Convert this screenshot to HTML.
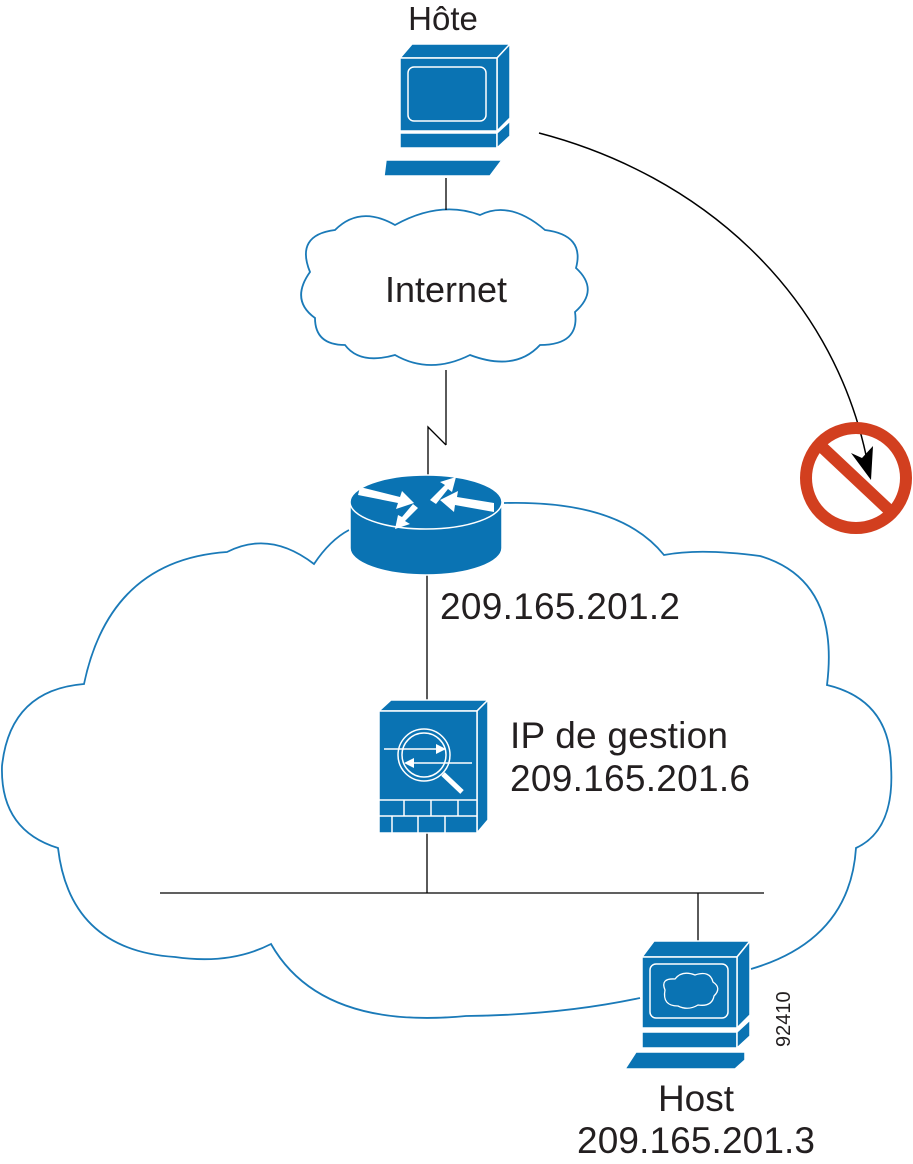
<!DOCTYPE html>
<html><head><meta charset="utf-8"><style>
html,body{margin:0;padding:0;background:#fff;}
svg{display:block;}
text{font-family:"Liberation Sans",Arial,sans-serif;fill:#231f20;}
</style></head><body>
<svg width="913" height="1164" viewBox="0 0 913 1164" xmlns="http://www.w3.org/2000/svg">
<!-- big cloud -->
<path d="M349,530 Q330,540 314,564 Q270,530 227,552 Q110,560 84,684 Q10,690 2,766 Q0,830 58,848 Q70,950 175,957 Q230,965 271,944 Q320,1030 466,1016 Q560,1015 640,998 M751,969 Q850,940 856,848 Q895,830 891,766 Q890,700 827,685 Q840,580 760,556 Q700,548 664,555 Q620,500 504,503" fill="none" stroke="#1a7ab8" stroke-width="1.8"/>
<!-- internet cloud -->
<path d="M335,230 Q360,205 395,225 Q440,200 480,215 Q510,200 545,230 Q585,235 576,268 Q600,290 575,312 Q580,345 540,345 Q515,372 470,355 Q430,375 395,355 Q360,365 345,345 Q315,345 315,318 Q290,300 310,272 Q295,235 335,230 Z" fill="none" stroke="#1a7ab8" stroke-width="1.8"/>
<text x="446" y="302" font-size="36" text-anchor="middle">Internet</text>
<!-- lines -->
<line x1="446" y1="178" x2="446" y2="210" stroke="#000" stroke-width="1.3"/>
<line x1="446" y1="370" x2="446" y2="445" stroke="#000" stroke-width="1.3"/>
<polyline points="446,445 428,427 428,476" fill="none" stroke="#000" stroke-width="1.3"/>
<line x1="427" y1="575" x2="427" y2="700" stroke="#000" stroke-width="1.3"/>
<line x1="427" y1="833" x2="427" y2="893" stroke="#000" stroke-width="1.3"/>
<line x1="160" y1="893" x2="764" y2="893" stroke="#000" stroke-width="1.3"/>
<line x1="698" y1="893" x2="698" y2="941" stroke="#000" stroke-width="1.3"/>
<!-- top host -->
<text x="443" y="30" font-size="33" text-anchor="middle">Hôte</text>
<g fill="#0a73b3" stroke="#fff" stroke-width="1.5">
<polygon points="400,58 412,44 510,44 497,58"/>
<polygon points="497,58 510,44 510,118 497,131"/>
<rect x="400" y="58" width="97" height="73"/>
<rect x="400" y="133" width="97" height="15"/>
<polygon points="497,133 510,121 510,136 497,148"/>
<polygon points="386,160 502,160 490,176 384,176"/>
</g>
<rect x="408" y="67" width="78" height="54" rx="6" fill="none" stroke="#fff" stroke-width="1.5"/>
<!-- router -->
<g stroke="#fff" stroke-width="1.5">
<path d="M350,502 L350,548 A76,27 0 0 0 502,548 L502,502 Z" fill="#0a73b3"/>
<ellipse cx="426" cy="502" rx="76" ry="27" fill="#0a73b3"/>
</g>
<g fill="#fff">
<polygon points="360,487 400,497 402,491 414,503 396,509 398,503 358,495"/>
<polygon points="430,500 445,485 440,482 456,477 452,492 448,489 436,504"/>
<polygon points="494,512 455,505 454,512 440,500 458,491 457,497 494,503"/>
<polygon points="418,508 405,521 410,524 395,529 398,515 402,517 413,504"/>
</g>
<text x="440" y="619" font-size="37" textLength="240">209.165.201.2</text>
<!-- firewall -->
<g fill="#0a73b3" stroke="#fff" stroke-width="1.5">
<polygon points="379,711 391,700 488,700 477,711"/>
<polygon points="477,711 488,700 488,820 477,833"/>
<rect x="379" y="711" width="98" height="122"/>
</g>
<g stroke="#fff" stroke-width="1.5" fill="none">
<line x1="379" y1="800" x2="477" y2="800"/>
<line x1="379" y1="816" x2="477" y2="816"/>
<line x1="404" y1="800" x2="404" y2="816"/><line x1="431" y1="800" x2="431" y2="816"/><line x1="458" y1="800" x2="458" y2="816"/>
<line x1="392" y1="816" x2="392" y2="833"/><line x1="418" y1="816" x2="418" y2="833"/><line x1="445" y1="816" x2="445" y2="833"/>
<circle cx="424" cy="755" r="26"/>
<circle cx="424" cy="755" r="22"/>
<line x1="443" y1="774" x2="462" y2="792" stroke-width="5"/>
<line x1="384" y1="749" x2="436" y2="749"/>
<line x1="414" y1="763" x2="472" y2="763"/>
</g>
<polygon points="436,744 446,749 436,754" fill="#fff"/>
<polygon points="414,758 404,763 414,768" fill="#fff"/>
<text x="510" y="748" font-size="37" textLength="218">IP de gestion</text>
<text x="510" y="791" font-size="37" textLength="240">209.165.201.6</text>
<!-- bottom host -->
<g fill="#0a73b3" stroke="#fff" stroke-width="1.5">
<polygon points="642,957 654,941 750,941 737,957"/>
<polygon points="737,957 750,941 750,1015 737,1028"/>
<rect x="642" y="957" width="95" height="71"/>
<rect x="642" y="1032" width="95" height="16"/>
<polygon points="737,1032 750,1020 750,1036 737,1048"/>
<polygon points="636,1052 745,1052 745,1060 735,1069 625,1069"/>
</g>
<rect x="650" y="964" width="78" height="54" rx="6" fill="none" stroke="#fff" stroke-width="1.5"/>
<path d="M665,990 Q660,978 675,979 Q682,970 695,975 Q710,970 713,982 Q722,988 714,996 Q712,1007 698,1005 Q688,1011 678,1006 Q662,1006 665,990 Z" fill="none" stroke="#fff" stroke-width="1.3"/>
<text x="696" y="1111" font-size="37" text-anchor="middle">Host</text>
<text x="696" y="1153" font-size="37" text-anchor="middle" textLength="238">209.165.201.3</text>
<text x="0" y="0" font-size="20" transform="translate(790,1047) rotate(-90)">92410</text>
<!-- arrow -->
<path d="M539,133 C700,175 830,290 866,455" fill="none" stroke="#000" stroke-width="1.5"/>
<!-- no sign -->
<circle cx="856" cy="478" r="50" fill="none" stroke="#d23f1f" stroke-width="12"/>
<line x1="823" y1="448" x2="889" y2="510" stroke="#d23f1f" stroke-width="12"/>
<polygon points="871,480 851,453 862,458 873,446" fill="#000"/>
</svg>
</body></html>
